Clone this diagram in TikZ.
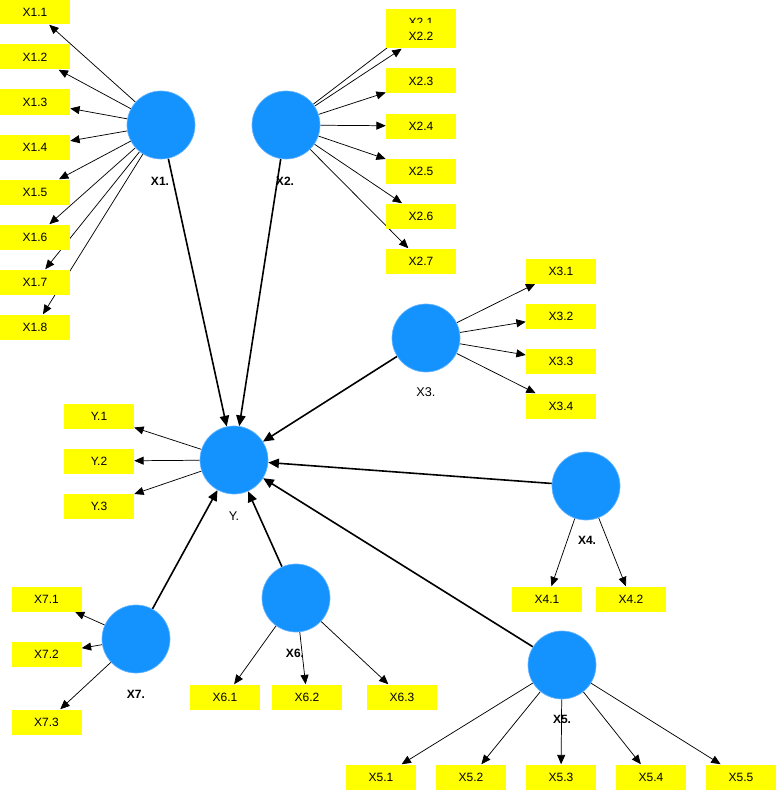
\documentclass[tikz,border=0pt]{standalone}
\usepackage{fontspec}
\setmainfont{Liberation Sans}
\usetikzlibrary{arrows.meta}
\definecolor{lvblue}{RGB}{20,147,255}
\definecolor{lvedge}{RGB}{100,180,255}
\definecolor{indyellow}{RGB}{255,255,0}
\pgfdeclarelayer{edges}
\pgfsetlayers{edges,main}
\begin{document}
\begin{tikzpicture}[x=0.75pt,y=-0.75pt,
 latent/.style={circle,fill=lvblue,draw=lvedge,line width=0.5pt,minimum size=51pt,inner sep=0pt},
 indicator/.style={rectangle,fill=indyellow,minimum width=52.5pt,minimum height=18.75pt,inner sep=0pt,font=\fontsize{9}{10}\selectfont},
 lvlabel/.style={font=\fontsize{9}{10}\selectfont\bfseries},
 lvlabelreg/.style={font=\fontsize{9.5}{10}\selectfont},
 loadarrow/.style={-{Triangle[length=7pt,width=6pt]},line width=0.55pt},
 structarrow/.style={-{Triangle[length=8pt,width=7pt]},line width=1.2pt}]
\useasboundingbox (0,0) rectangle (779,792);
% latent variables
\node[latent] (X1) at (161,125) {};
\node[latent] (X2) at (286,125) {};
\node[latent] (X3) at (426,338) {};
\node[latent] (Y) at (234,460) {};
\node[latent] (X4) at (586,486) {};
\node[latent] (X5) at (562,665) {};
\node[latent] (X6) at (296,598) {};
\node[latent] (X7) at (136,639) {};
% labels
\node[lvlabel] (lX1) at (160,181) {X1.};
\node[lvlabel] (lX2) at (285,181) {X2.};
\node[lvlabelreg] (lX3) at (426,392) {X3.};
\node[lvlabelreg] (lY) at (234,516) {Y.};
\node[lvlabel] (lX4) at (587,540) {X4.};
\node[lvlabel] (lX5) at (562,719) {X5.};
\node[lvlabel] (lX6) at (295,653) {X6.};
\node[lvlabel] (lX7) at (136,694) {X7.};
% indicators X1
\node[indicator] (x11) at (35,12) {X1.1};
\node[indicator] (x12) at (35,57) {X1.2};
\node[indicator] (x13) at (35,102) {X1.3};
\node[indicator] (x14) at (35,147) {X1.4};
\node[indicator] (x15) at (35,192) {X1.5};
\node[indicator] (x16) at (35,237) {X1.6};
\node[indicator] (x17) at (35,282) {X1.7};
\node[indicator] (x18) at (35,327) {X1.8};
% indicators X2
\node[indicator] (x21) at (421,22) {X2.1};
\node[indicator] (x22) at (421,36) {X2.2};
\node[indicator] (x23) at (421,81) {X2.3};
\node[indicator] (x24) at (421,126) {X2.4};
\node[indicator] (x25) at (421,171) {X2.5};
\node[indicator] (x26) at (421,216) {X2.6};
\node[indicator] (x27) at (421,261) {X2.7};
% indicators X3
\node[indicator] (x31) at (561,271) {X3.1};
\node[indicator] (x32) at (561,316) {X3.2};
\node[indicator] (x33) at (561,361) {X3.3};
\node[indicator] (x34) at (561,406) {X3.4};
% indicators Y
\node[indicator] (y1) at (99,416) {Y.1};
\node[indicator] (y2) at (99,461) {Y.2};
\node[indicator] (y3) at (99,506) {Y.3};
% indicators X4
\node[indicator] (x41) at (547,599) {X4.1};
\node[indicator] (x42) at (631,599) {X4.2};
% indicators X5
\node[indicator] (x51) at (381,777) {X5.1};
\node[indicator] (x52) at (471,777) {X5.2};
\node[indicator] (x53) at (561,777) {X5.3};
\node[indicator] (x54) at (651,777) {X5.4};
\node[indicator] (x55) at (741,777) {X5.5};
% indicators X6
\node[indicator] (x61) at (225,697) {X6.1};
\node[indicator] (x62) at (307,697) {X6.2};
\node[indicator] (x63) at (402,697) {X6.3};
% indicators X7
\node[indicator] (x71) at (46.5,599) {X7.1};
\node[indicator] (x72) at (46.5,654) {X7.2};
\node[indicator] (x73) at (46.5,722) {X7.3};
\begin{pgfonlayer}{edges}
% loadings
\foreach \t in {x11,x12,x13,x14,x15,x16,x17,x18} \draw[loadarrow] (X1) -- (\t);
\foreach \t in {x21,x22,x23,x24,x25,x26,x27} \draw[loadarrow] (X2) -- (\t);
\foreach \t in {x31,x32,x33,x34} \draw[loadarrow] (X3) -- (\t);
\foreach \t in {y1,y2,y3} \draw[loadarrow] (Y) -- (\t);
\foreach \t in {x41,x42} \draw[loadarrow] (X4) -- (\t);
\foreach \t in {x51,x52,x53,x54,x55} \draw[loadarrow] (X5) -- (\t);
\foreach \t in {x61,x62,x63} \draw[loadarrow] (X6) -- (\t);
\foreach \t in {x71,x72,x73} \draw[loadarrow] (X7) -- (\t);
% structural paths
\foreach \s in {X1,X2,X3,X4,X5,X6,X7} \draw[structarrow] (\s) -- (Y);
\end{pgfonlayer}
\end{tikzpicture}
\end{document}
